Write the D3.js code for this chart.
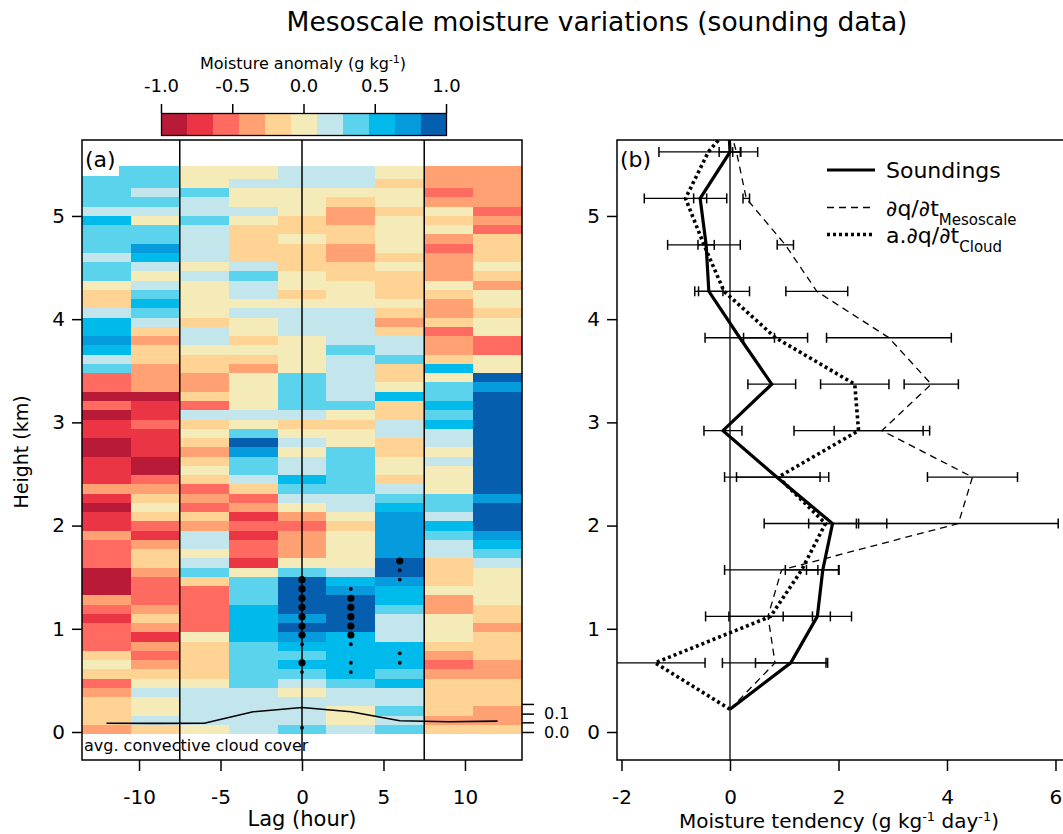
<!DOCTYPE html>
<html>
<head>
<meta charset="utf-8">
<script src="https://cdn.jsdelivr.net/npm/d3@7"></script>
<style>
  body { margin: 0; background: #fff; }
  svg { display: block; }
  text { font-family: "DejaVu Sans", Verdana, sans-serif; fill: #000; }
</style>
</head>
<body>
<svg id="chart" width="1063" height="834"></svg>
<script>
// ---------- Panel (a): moisture anomaly by lag and height ----------
const lags = [-12, -9, -6, -3, 0, 3, 6, 9, 12];          // hours
const lagHalfWidth = 1.5;                                  // half the 3 h spacing
const lowestLevel = -0.022, levelStep = 0.0897, heatTop = 5.48;   // km

// anomaly (g/kg) per lag column, listed from the top level down
const qLagM12 = [0.35,0.35,0.35,0.35,0.2,0.55,0.35,0.35,0.35,0.2,
  0.35,0.35,0,-0.2,-0.2,0.2,0.55,0.55,0.7,0.55,
  0.2,0.35,-0.55,-0.55,-0.9,-0.55,-0.9,-0.7,-0.7,-0.9,
  -0.9,-0.7,-0.7,-0.7,-0.35,-0.7,-0.9,-0.7,-0.7,-0.35,
  -0.55,-0.55,-0.55,-0.9,-0.9,-0.9,-0.35,-0.55,-0.7,-0.55,
  -0.55,-0.55,-0.2,0,-0.2,-0.55,-0.35,-0.2,-0.2,-0.2,
  -0.35];
const qLagM9 = [0.35,0.35,0.2,0.35,0.2,0,0.35,0.35,0.7,0.55,
  0.2,0,0.2,0.35,0.55,0.35,0.2,-0.2,-0.35,-0.2,
  -0.2,-0.35,-0.35,-0.35,-0.9,-0.7,-0.7,-0.55,-0.7,-0.7,
  -0.7,-0.9,-0.9,-0.55,-0.35,-0.2,0,-0.2,-0.55,-0.7,
  -0.35,-0.2,-0.2,-0.35,-0.55,-0.55,-0.55,-0.35,-0.2,-0.35,
  -0.7,-0.35,-0.55,-0.35,-0.2,0,0.2,0,0,0.2,
  -0.2];
const qLagM6 = [0,0,0.35,0.2,0.2,0.35,0.2,0.2,0.2,0.2,
  0,0.2,0,0,0,0,-0.2,0.2,0.2,0,
  -0.2,-0.2,-0.35,-0.35,-0.2,-0.55,0.2,-0.2,0,-0.2,
  -0.35,-0.2,0,-0.2,-0.55,-0.35,-0.55,-0.2,-0.35,0.2,
  0.2,0,0.2,0.35,-0.2,-0.55,-0.55,-0.55,-0.55,-0.55,
  0,-0.2,-0.2,-0.2,-0.2,0,0.2,0.2,0.2,0.2,
  0];
const qLagM3 = [0,0.2,0,0,0.2,0,-0.2,-0.2,-0.2,-0.2,
  0.2,0.35,0.2,0.2,0,0.2,0,0,-0.2,0,
  -0.2,-0.35,0,0,0,0,0.2,0,0.35,0.9,
  0.7,0.35,0.35,0.2,-0.2,-0.55,-0.35,-0.7,-0.55,-0.7,
  -0.55,-0.55,-0.7,0,0.35,0.35,0.35,0.55,0.55,0.55,
  0.55,0.35,0.35,0.35,0.35,0.35,0.2,0.2,0.2,0.2,
  0.2];
const qLag0 = [0.2,0.2,0,0,0,-0.2,-0.2,0,-0.2,-0.2,
  -0.2,0,0,-0.2,0,0.2,0.2,0.2,0,0,
  0,0,0.35,0.35,0.35,0.35,0.2,-0.2,0,0.2,
  0,0.2,0.2,0.55,0.35,0.2,0,-0.35,-0.55,-0.35,
  -0.35,-0.35,0,0.35,0.9,0.9,0.9,0.9,0.7,0.9,
  0.7,0.55,0.35,0.55,0.35,0.2,0,0.2,0.2,0.2,
  0.35];
const qLagP3 = [0.2,0.2,0,-0.2,-0.35,-0.35,-0.2,-0.2,-0.35,-0.35,
  -0.2,-0.2,0,0,0,0.2,0.2,0.2,0.2,0.35,
  0.2,0.2,0.2,0.2,0.2,0.35,0,-0.2,0,0,
  0.35,0.35,0.35,0.35,0.35,0.2,0.2,0,-0.2,0,
  0,0,0,0.2,0.55,0.7,0.9,0.9,0.9,0.9,
  0.55,0.55,0.55,0.55,0.55,0.35,0.2,0.2,0,0,
  0.2];
const qLagP6 = [0,-0.2,0,0,-0.2,0,0,0,0,-0.2,
  0,-0.2,-0.2,-0.2,0,-0.2,-0.35,-0.2,0.2,0.2,
  0.35,-0.2,-0.2,0,0.55,-0.2,-0.2,0.2,0.2,-0.2,
  -0.2,0,0,-0.2,0.2,0.35,0.55,0.7,0.7,0.7,
  0.7,0.7,0.9,0.9,0.7,0.55,0.55,0.35,0.2,0.2,
  0.2,0.55,0.55,0.55,0.35,0.55,0.2,0.2,0.35,0.2,
  0.35];
const qLagP9 = [-0.35,-0.35,-0.55,-0.35,0,-0.2,0,-0.35,-0.55,-0.35,
  -0.35,-0.35,0,-0.2,-0.35,-0.35,-0.2,-0.55,-0.35,-0.35,
  -0.2,0.55,0,0.35,0.35,0.55,0.35,0.55,0.2,0.2,
  0,0.2,0,0,0,0.35,0.35,0.2,0.55,0.35,
  0.2,0.2,-0.2,-0.2,-0.2,0,-0.35,-0.35,0,0,
  0,-0.2,-0.35,-0.55,-0.35,-0.2,-0.2,-0.2,-0.2,-0.35,
  -0.2];
const qLagP12 = [-0.35,-0.35,-0.35,-0.35,-0.55,-0.35,-0.55,-0.2,-0.2,-0.2,
  0,-0.2,-0.35,0,0,-0.2,0,0,-0.55,-0.55,
  0,0,0.9,0.7,0.9,0.9,0.9,0.9,0.9,0.9,
  0.9,0.9,0.9,0.9,0.9,0.7,0.9,0.9,0.9,0.7,
  0.55,0.35,0.2,0,0,0,0,-0.2,-0.2,-0.35,
  -0.2,-0.2,-0.2,-0.35,-0.35,-0.2,-0.2,-0.2,-0.35,-0.35,
  -0.2];
const anomalyColumns = [qLagM12, qLagM9, qLagM6, qLagM3, qLag0, qLagP3, qLagP6, qLagP9, qLagP12];

// significance markers: lag (h), height (km), level (95 = large, 90 = small)
const sigLag    = [0,0,0,0,0,0,0,0,0,0,0, 3,3,3,3,3,3,3,3,3, 6,6,6,6,6];
const sigHeight = [1.476,1.386,1.296,1.208,1.117,1.027,0.940,0.850,0.671,0.581,0.042,
                   1.386,1.296,1.208,1.117,1.027,0.940,0.850,0.671,0.581,
                   1.657,1.567,1.477,0.762,0.671];
const sigLevel  = [95,95,95,95,95,95,95,90,95,90,90,
                   90,95,95,95,95,95,90,90,90,
                   95,90,90,90,90];

// average convective cloud cover per lag
const cloudCover = [0.048, 0.047, 0.048, 0.110, 0.133, 0.110, 0.061, 0.056, 0.059];

// colour bar
const palette = ["#b81a37","#eb3545","#ff6b61","#ffa173","#ffd394","#f5ebb8",
                 "#c3e6ed","#5bd3ec","#00baeb","#069bdc","#055fae"];
const cbarTicks = [-1, -0.5, 0, 0.5, 1];
const cbarLabels = ["-1.0", "-0.5", "0.0", "0.5", "1.0"];

// ---------- Panel (b): moisture tendency profiles ----------
// the last level lies above the plotted height range and only shows as clipped line ends
const tendHeights  = [0.22, 0.67, 1.12, 1.57, 2.02, 2.47, 2.92, 3.37, 3.82, 4.27, 4.72, 5.17, 5.62, 6.07];
const soundings    = [0, 1.12, 1.61, 1.71, 1.89, 0.86, -0.13, 0.77, 0.18, -0.39, -0.44, -0.55, 0.0, -0.04];
const soundingsErr = [0, 0.65, 0.63, 0.30, 0.44, 0.96, 0.35, 0.44, 0.64, 0.26, 0.15, 0.12, 0.20, 0];
const mesoscale    = [0, 0.83, 0.70, 0.95, 4.21, 4.47, 2.80, 3.71, 2.93, 1.60, 1.02, 0.30, 0.12, -0.13];
const mesoscaleErr = [0, 0.97, 1.15, 1.05, 1.84, 0.83, 0.88, 0.50, 1.15, 0.57, 0.15, 0.06, 0.07, 0];
const cloudTerm    = [0, -1.38, 0.75, 1.32, 1.76, 0.89, 2.37, 2.30, 0.84, -0.11, -0.48, -0.82, -0.40, 0.33];
const cloudTermErr = [0, 0.92, 0.77, 0.30, 1.13, 0.77, 1.19, 0.63, 0.59, 0.47, 0.67, 0.76, 0.91, 0];
const tendTicks = [-2, 0, 2, 4, 6];

// ---------- layout ----------
const svg = d3.select("#chart");
const A = {left: 82, right: 522, top: 140, bottom: 760};
const B = {left: 617, right: 1064, top: 140, bottom: 760};

const y = d3.scaleLinear().domain([-0.2713, 5.736]).range([A.bottom, A.top]);
const xA = d3.scaleLinear().domain([-13.5, 13.5]).range([A.left, A.right]);
const xB = d3.scaleLinear().domain([-2.083, 6.157]).range([B.left, B.right]);
const color = d3.scaleQuantize().domain([-1, 1]).range(palette);
const yCloud = d3.scaleLinear().domain([0, 0.1]).range([y(0), y(0.178)]);

// title
svg.append("text").attr("x", 597).attr("y", 31).attr("text-anchor", "middle")
  .style("font-size", "26.5px").text("Mesoscale moisture variations (sounding data)");

// ---------- heat map ----------
const nRows = qLag0.length;
const heat = svg.append("g");
anomalyColumns.forEach((col, j) => {
  const lag = lags[j];
  heat.selectAll(null).data(col).join("rect")
    .attr("x", xA(lag - lagHalfWidth))
    .attr("width", xA(lag + lagHalfWidth) - xA(lag - lagHalfWidth))
    .attr("y", (d, i) => {
      const k = nRows - 1 - i;
      const top = k === nRows - 1 ? heatTop : lowestLevel + (k + 1) * levelStep;
      return y(top);
    })
    .attr("height", (d, i) => {
      const k = nRows - 1 - i;
      const top = k === nRows - 1 ? heatTop : lowestLevel + (k + 1) * levelStep;
      const bot = lowestLevel + k * levelStep;
      return y(bot) - y(top);
    })
    .attr("fill", d => color(d))
    .attr("shape-rendering", "crispEdges");
});

// label box for (a)
svg.append("rect").attr("x", A.left).attr("y", A.top).attr("width", 37).attr("height", 36).attr("fill", "#fff");
svg.append("text").attr("x", 85).attr("y", 167).style("font-size", "22px").text("(a)");

// lag markers
[-7.5, 0, 7.5].forEach(l => {
  svg.append("line").attr("x1", xA(l)).attr("x2", xA(l)).attr("y1", A.top).attr("y2", A.bottom)
    .attr("stroke", "#000").attr("stroke-width", 1.5);
});

// cloud cover curve
svg.append("path")
  .attr("d", d3.line().x((d, i) => xA(lags[i])).y(d => yCloud(d))(cloudCover))
  .attr("fill", "none").attr("stroke", "#000").attr("stroke-width", 1.6);

// significance dots
svg.append("g").selectAll("circle").data(sigLag).join("circle")
  .attr("cx", d => xA(d))
  .attr("cy", (d, i) => y(sigHeight[i]))
  .attr("r", (d, i) => sigLevel[i] === 95 ? 3.6 : 1.9)
  .attr("fill", "#000");

svg.append("text").attr("x", 84).attr("y", 751).style("font-size", "16px").text("avg. convective cloud cover");

// frame (a)
svg.append("rect").attr("x", A.left).attr("y", A.top).attr("width", A.right - A.left).attr("height", A.bottom - A.top)
  .attr("fill", "none").attr("stroke", "#000").attr("stroke-width", 1.5);

// axes (a)
function styleAxis(g) {
  g.select(".domain").remove();
  g.selectAll(".tick line").attr("stroke", "#000").attr("stroke-width", 1.5);
  g.selectAll(".tick text").style("font-size", "20px").style("font-family", "DejaVu Sans, sans-serif");
}
svg.append("g").attr("transform", `translate(0,${A.bottom})`)
  .call(d3.axisBottom(xA).tickValues([-10, -5, 0, 5, 10]).tickFormat(d => String(d)).tickSize(11).tickPadding(19))
  .call(styleAxis);
svg.append("g").attr("transform", `translate(${A.left},0)`)
  .call(d3.axisLeft(y).tickValues([0, 1, 2, 3, 4, 5]).tickFormat(d => String(d)).tickSize(10).tickPadding(7))
  .call(styleAxis);

// cloud cover axis (right)
const cloudAxis = svg.append("g").attr("transform", `translate(${A.right},0)`)
  .call(d3.axisRight(yCloud).tickValues([0, 0.1]).tickFormat(d => d.toFixed(1))
    .tickSize(12).tickPadding(10))
  .call(styleAxis);
cloudAxis.selectAll(".tick text").style("font-size", "16px");
// minor ticks between the labelled ones
[0.05, 0.15].forEach(v => {
  svg.append("line").attr("x1", A.right).attr("x2", A.right + 12).attr("y1", yCloud(v)).attr("y2", yCloud(v))
    .attr("stroke", "#000").attr("stroke-width", 1.5);
});

svg.append("text").attr("x", xA(0)).attr("y", 826).attr("text-anchor", "middle").style("font-size", "21px").text("Lag (hour)");
svg.append("text").attr("transform", "translate(28,452) rotate(-90)").attr("text-anchor", "middle")
  .style("font-size", "19px").text("Height (km)");

// ---------- colour bar ----------
const cb = d3.scaleLinear().domain([-1, 1]).range([161.5, 446.5]);
const binW = 2 / palette.length;
svg.append("g").selectAll("rect").data(palette).join("rect")
  .attr("x", (d, i) => cb(-1 + i * binW))
  .attr("width", (d, i) => cb(-1 + (i + 1) * binW) - cb(-1 + i * binW) + 0.5)
  .attr("y", 113.5).attr("height", 22)
  .attr("fill", d => d).attr("shape-rendering", "crispEdges");
svg.append("rect").attr("x", cb(-1)).attr("y", 113.5).attr("width", cb(1) - cb(-1)).attr("height", 22)
  .attr("fill", "none").attr("stroke", "#000").attr("stroke-width", 1.3);
cbarTicks.forEach((t, i) => {
  svg.append("line").attr("x1", cb(t)).attr("x2", cb(t)).attr("y1", 113.5).attr("y2", 104)
    .attr("stroke", "#000").attr("stroke-width", 1.5);
  svg.append("text").attr("x", cb(t)).attr("y", 92).attr("text-anchor", "middle").style("font-size", "18px").text(cbarLabels[i]);
});
const cbTitle = svg.append("text").attr("x", 303).attr("y", 69).attr("text-anchor", "middle").style("font-size", "16px");
cbTitle.append("tspan").text("Moisture anomaly (g kg");
cbTitle.append("tspan").attr("baseline-shift", "super").style("font-size", "11px").text("-1");
cbTitle.append("tspan").text(")");

// ---------- panel (b) ----------
svg.append("clipPath").attr("id", "clipB").append("rect")
  .attr("x", B.left).attr("y", B.top).attr("width", B.right - B.left).attr("height", B.bottom - B.top);
const pb = svg.append("g").attr("clip-path", "url(#clipB)");

pb.append("line").attr("x1", xB(0)).attr("x2", xB(0)).attr("y1", B.top).attr("y2", B.bottom)
  .attr("stroke", "#000").attr("stroke-width", 1.3);

const series = [
  {vals: soundings, err: soundingsErr, width: 3.2, dash: null},
  {vals: mesoscale, err: mesoscaleErr, width: 1.3, dash: "7,5"},
  {vals: cloudTerm, err: cloudTermErr, width: 3.6, dash: "3,3"}
];
// error bars
series.forEach(s => {
  s.vals.forEach((v, i) => {
    const e = s.err[i];
    if (!e) return;
    const yy = y(tendHeights[i]);
    pb.append("line").attr("x1", xB(v - e)).attr("x2", xB(v + e)).attr("y1", yy).attr("y2", yy)
      .attr("stroke", "#000").attr("stroke-width", 1.3);
    [v - e, v + e].forEach(xv => {
      pb.append("line").attr("x1", xB(xv)).attr("x2", xB(xv)).attr("y1", yy - 5).attr("y2", yy + 5)
        .attr("stroke", "#000").attr("stroke-width", 1.5);
    });
  });
});
// profiles
series.forEach(s => {
  pb.append("path")
    .attr("d", d3.line().x(d => xB(d)).y((d, i) => y(tendHeights[i]))(s.vals))
    .attr("fill", "none").attr("stroke", "#000").attr("stroke-width", s.width)
    .attr("stroke-dasharray", s.dash).attr("stroke-linejoin", "miter");
});

// frame (b)
svg.append("path").attr("d", `M${B.right},${B.top}H${B.left}V${B.bottom}H${B.right}`)
  .attr("fill", "none").attr("stroke", "#000").attr("stroke-width", 1.5);
svg.append("text").attr("x", 620).attr("y", 167).style("font-size", "22px").text("(b)");

svg.append("g").attr("transform", `translate(0,${B.bottom})`)
  .call(d3.axisBottom(xB).tickValues(tendTicks).tickFormat(d => String(d)).tickSize(11).tickPadding(19))
  .call(styleAxis);
svg.append("g").attr("transform", `translate(${B.left},0)`)
  .call(d3.axisLeft(y).tickValues([0, 1, 2, 3, 4, 5]).tickFormat(d => String(d)).tickSize(10).tickPadding(7))
  .call(styleAxis);

const xLab = svg.append("text").attr("x", 839).attr("y", 828).attr("text-anchor", "middle").style("font-size", "20px");
xLab.append("tspan").text("Moisture tendency (g kg");
xLab.append("tspan").attr("baseline-shift", "super").style("font-size", "13px").text("-1");
xLab.append("tspan").text(" day");
xLab.append("tspan").attr("baseline-shift", "super").style("font-size", "13px").text("-1");
xLab.append("tspan").text(")");

// legend
const legendRows = [
  {y: 170, width: 3.2, dash: null, main: "Soundings", sub: ""},
  {y: 207.5, width: 1.3, dash: "7,5", main: "\u2202q/\u2202t", sub: "Mesoscale"},
  {y: 234.5, width: 3.6, dash: "3,3", main: "a.\u2202q/\u2202t", sub: "Cloud"}
];
legendRows.forEach(r => {
  svg.append("line").attr("x1", 827).attr("x2", 875).attr("y1", r.y).attr("y2", r.y)
    .attr("stroke", "#000").attr("stroke-width", r.width).attr("stroke-dasharray", r.dash);
  const t = svg.append("text").attr("x", 886).attr("y", r.y + 8).style("font-size", "22px");
  t.append("tspan").text(r.main);
  if (r.sub) t.append("tspan").attr("baseline-shift", "sub").style("font-size", "15px").text(r.sub);
});
</script>
</body>
</html>
